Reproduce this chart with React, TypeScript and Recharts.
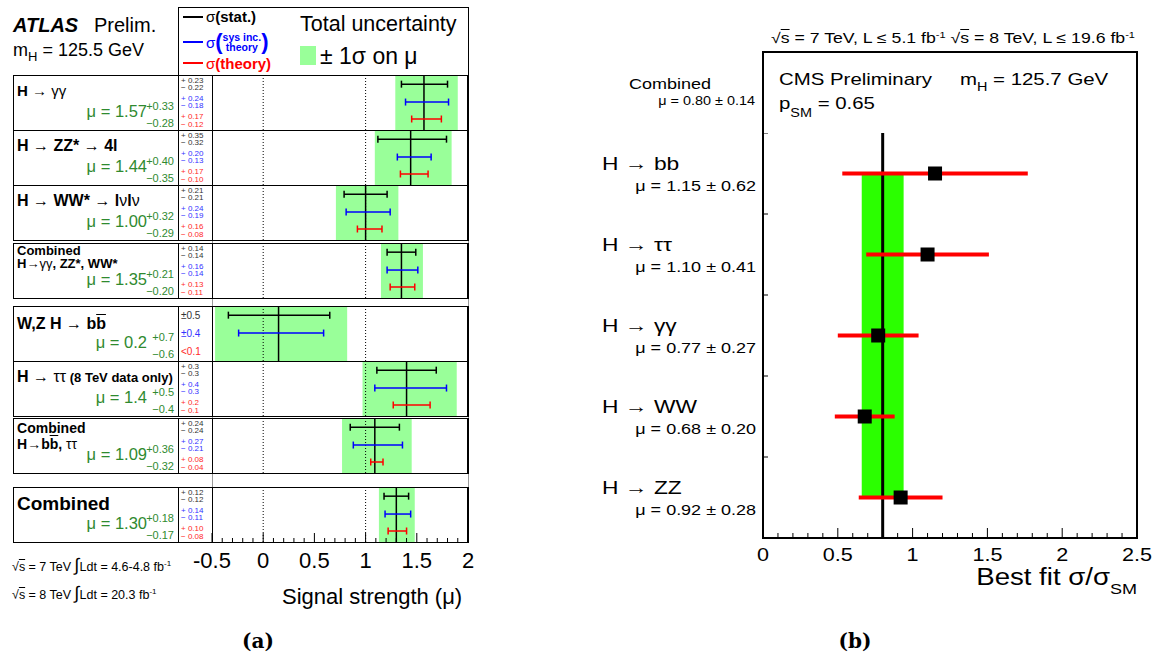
import React from "react";
import { ComposedChart, Scatter, ErrorBar, XAxis, YAxis, ReferenceArea, ReferenceLine } from "recharts";

const FONT = "'Liberation Sans', Arial, Helvetica, sans-serif";

// ---------- (a) ATLAS: signal strength per channel ----------
const atlasChannels = [
  "H → γγ",
  "H → ZZ* → 4l",
  "H → WW* → lνlν",
  "Combined|H→γγ, ZZ*, WW*",
  "W,Z H → b‾b",
  "H → ττ",
  "Combined|H→b‾b, ττ",
  "Combined",
];
const atlasNotes = ["", "", "", "", "", "(8 TeV data only)", "", ""];
const atlasMu = [1.57, 1.44, 1.0, 1.35, 0.15, 1.4, 1.09, 1.3];
const atlasMuText = ["1.57", "1.44", "1.00", "1.35", "0.2", "1.4", "1.09", "1.30"];
const atlasTotUp = [0.33, 0.4, 0.32, 0.21, 0.67, 0.49, 0.36, 0.18];
const atlasTotDn = [0.28, 0.35, 0.29, 0.2, 0.62, 0.43, 0.32, 0.17];
const atlasTotUpText = ["+0.33", "+0.40", "+0.32", "+0.21", "+0.7", "+0.5", "+0.36", "+0.18"];
const atlasTotDnText = ["−0.28", "−0.35", "−0.29", "−0.20", "−0.6", "−0.4", "−0.32", "−0.17"];
const atlasStatUp = [0.23, 0.35, 0.21, 0.14, 0.5, 0.29, 0.24, 0.12];
const atlasStatDn = [0.22, 0.32, 0.21, 0.14, 0.49, 0.29, 0.24, 0.12];
const atlasSysUp = [0.24, 0.2, 0.24, 0.16, 0.44, 0.39, 0.27, 0.14];
const atlasSysDn = [0.18, 0.13, 0.19, 0.14, 0.39, 0.31, 0.21, 0.11];
const atlasThUp = [0.17, 0.17, 0.16, 0.13, null, 0.23, 0.08, 0.1];
const atlasThDn = [0.12, 0.1, 0.08, 0.11, null, 0.13, 0.04, 0.08];
const atlasStatText = [["+ 0.23", "− 0.22"], ["+ 0.35", "− 0.32"], ["+ 0.21", "− 0.21"], ["+ 0.14", "− 0.14"], ["±0.5"], ["+ 0.3", "− 0.3"], ["+ 0.24", "− 0.24"], ["+ 0.12", "− 0.12"]];
const atlasSysText = [["+ 0.24", "− 0.18"], ["+ 0.20", "− 0.13"], ["+ 0.24", "− 0.19"], ["+ 0.16", "− 0.14"], ["±0.4"], ["+ 0.4", "− 0.3"], ["+ 0.27", "− 0.21"], ["+ 0.14", "− 0.11"]];
const atlasThText = [["+ 0.17", "− 0.12"], ["+ 0.17", "− 0.10"], ["+ 0.16", "− 0.08"], ["+ 0.13", "− 0.11"], ["<0.1"], ["+ 0.2", "− 0.1"], ["+ 0.08", "− 0.04"], ["+ 0.10", "− 0.08"]];
const atlasTicks = [-0.5, -0.4, -0.3, -0.2, -0.1, 0, 0.1, 0.2, 0.3, 0.4, 0.5, 0.6, 0.7, 0.8, 0.9, 1, 1.1, 1.2, 1.3, 1.4, 1.5, 1.6, 1.7, 1.8, 1.9, 2];

// ---------- (b) CMS: best fit sigma/sigma_SM ----------
const cmsChannels = ["H → bb", "H → ττ", "H → γγ", "H → WW", "H → ZZ"];
const cmsMu = [1.15, 1.1, 0.77, 0.68, 0.92];
const cmsErr = [0.62, 0.41, 0.27, 0.2, 0.28];
const cmsComb = 0.8;
const cmsCombErr = 0.14;
const cmsTicks = [0, 0.1, 0.2, 0.3, 0.4, 0.5, 0.6, 0.7, 0.8, 0.9, 1, 1.1, 1.2, 1.3, 1.4, 1.5, 1.6, 1.7, 1.8, 1.9, 2, 2.1, 2.2, 2.3, 2.4, 2.5];

// layout of panel (a)
const ROW_TOP = [75, 130, 185, 243, 306, 361, 418, 487];
const ROW_H = 55;
const A_X0 = 212;
const A_W = 256;
const titleSize = [15, 16, 16, 13, 16, 16, 14, 19];
const titleCenters = [[15], [16], [16], [7, 20], [18], [16], [10, 26], [16]];
const GREEN_TXT = "#2f8a2f";
const SYS_BLUE = "#3333ff";
const TH_RED = "#ff2a2a";
// layout of panel (b)
const CMS_HALF_BAND = 40.5;

type TProps = {
  x: number;
  y: number;
  size: number;
  anchor?: "start" | "middle" | "end";
  color?: string;
  weight?: number;
  italic?: boolean;
  family?: string;
  sx?: number;
  children?: React.ReactNode;
};

function T({ x, y, size, anchor = "start", color = "#000", weight = 400, italic, family = FONT, sx = 1, children }: TProps) {
  const base: React.CSSProperties = {
    position: "absolute",
    top: y - size / 2,
    height: size,
    fontSize: size,
    lineHeight: `${size}px`,
    color,
    fontWeight: weight,
    fontStyle: italic ? "italic" : "normal",
    fontFamily: family,
    whiteSpace: "nowrap",
    transform: sx !== 1 ? `scaleX(${sx})` : undefined,
  };
  if (anchor === "start") return <div style={{ ...base, left: x, transformOrigin: "left center" }}>{children}</div>;
  if (anchor === "end")
    return <div style={{ ...base, left: x - 600, width: 600, textAlign: "right", transformOrigin: "right center" }}>{children}</div>;
  return <div style={{ ...base, left: x - 300, width: 600, textAlign: "center" }}>{children}</div>;
}

const Sup = ({ s, up, children }: { s: number; up: number; children: React.ReactNode }) => (
  <span style={{ fontSize: s, position: "relative", top: -up }}>{children}</span>
);

function richTitle(s: string) {
  const out: React.ReactNode[] = [];
  const chars = Array.from(s);
  for (let j = 0; j < chars.length; j++) {
    const c = chars[j];
    if (c === "‾") {
      j++;
      out.push(<span key={j} style={{ textDecoration: "overline" }}>{chars[j]}</span>);
    } else if ("→γτν".includes(c)) {
      out.push(<span key={j} style={{ fontWeight: 400 }}>{c}</span>);
    } else out.push(c);
  }
  return out;
}

const isMajor = (v: number) => Math.abs(v * 2 - Math.round(v * 2)) < 1e-6;

type TickProps = {
  x?: number;
  y?: number;
  index?: number;
  payload?: { value?: string | number; offset?: number };
  majorLen?: number;
  minorLen?: number;
  label?: boolean;
  fontSize?: number;
  dy?: number;
  sx?: number;
};

function InnerTick({ x = 0, y = 0, payload, majorLen = 9, minorLen = 4, label, fontSize = 20, dy = 24, sx = 1 }: TickProps) {
  const v = Number(payload?.value);
  const major = isMajor(v);
  return (
    <g>
      <line x1={x} x2={x} y1={y} y2={y - (major ? majorLen : minorLen)} stroke="#000" strokeWidth={1} />
      {label && major && (
        <text
          transform={`translate(${x} ${y + dy}) scale(${sx} 1)`}
          textAnchor="middle"
          fontSize={fontSize}
          fontFamily={FONT}
          fill="#000"
        >
          {String(v)}
        </text>
      )}
    </g>
  );
}

const noDot = () => <g />;

function AtlasRowChart({ i }: { i: number }) {
  const last = i === atlasChannels.length - 1;
  const mu = atlasMu[i];
  const bar = (y: number, dn: number | null, up: number | null) => (dn == null ? [] : [{ x: mu, y, e: [dn, up] }]);
  const side = last ? 30 : 0;
  return (
    <div style={{ position: "absolute", left: A_X0 - side, top: ROW_TOP[i] }}>
      <ComposedChart width={A_W + 2 * side} height={ROW_H + (last ? 36 : 0)} margin={{ top: 0, bottom: 0, left: side, right: side }}>
        <XAxis
          type="number"
          dataKey="x"
          domain={[-0.5, 2]}
          ticks={atlasTicks}
          interval={0}
          allowDataOverflow
          axisLine={false}
          tickLine={false}
          tickSize={0}
          tickMargin={0}
          height={last ? 36 : 0}
          tick={<InnerTick majorLen={9} minorLen={4} label={last} fontSize={22} dy={26} />}
        />
        <YAxis type="number" dataKey="y" domain={[0, 6]} hide allowDataOverflow />
        <ReferenceArea x1={mu - atlasTotDn[i]} x2={mu + atlasTotUp[i]} fill="#99ff99" fillOpacity={1} stroke="none" ifOverflow="hidden" />
        <ReferenceLine x={0} stroke="#000" strokeDasharray="1 2" />
        <ReferenceLine x={1} stroke="#000" strokeDasharray="1 2" />
        <ReferenceLine x={mu} stroke="#000" strokeWidth={1.5} />
        <Scatter data={bar(5, atlasStatDn[i], atlasStatUp[i])} shape={noDot} isAnimationActive={false}>
          <ErrorBar dataKey="e" direction="x" stroke="#000" strokeWidth={1.5} width={3.5} />
        </Scatter>
        <Scatter data={bar(3.05, atlasSysDn[i], atlasSysUp[i])} shape={noDot} isAnimationActive={false}>
          <ErrorBar dataKey="e" direction="x" stroke="#0000ff" strokeWidth={1.5} width={3.5} />
        </Scatter>
        <Scatter data={bar(1.2, atlasThDn[i], atlasThUp[i])} shape={noDot} isAnimationActive={false}>
          <ErrorBar dataKey="e" direction="x" stroke="#ff0000" strokeWidth={1.5} width={3.5} />
        </Scatter>
      </ComposedChart>
    </div>
  );
}

function AtlasLabels({ i }: { i: number }) {
  const top = ROW_TOP[i];
  const lines = atlasChannels[i].split("|");
  const groups = [atlasStatText[i], atlasSysText[i], atlasThText[i]];
  const colors = ["#333", SYS_BLUE, TH_RED];
  const single = groups[0].length === 1;
  const offs = single ? [10, 28, 45.5] : [5.7, 12.5, 23.5, 31, 42, 49.5];
  const small: { t: string; c: string }[] = [];
  groups.forEach((g, gi) => g.forEach((t) => small.push({ t, c: colors[gi] })));
  return (
    <>
      {lines.map((l, k) => (
        <T key={k} x={17} y={top + titleCenters[i][k]} size={titleSize[i]} weight={700}>
          {richTitle(l)}
          {k === 0 && atlasNotes[i] && <span style={{ fontSize: 13 }}>{"  " + atlasNotes[i]}</span>}
        </T>
      ))}
      <T x={147} y={top + 36} size={16.5} anchor="end" color={GREEN_TXT}>
        μ = {atlasMuText[i]}
      </T>
      <T x={174} y={top + 31} size={11} anchor="end" color={GREEN_TXT}>
        {atlasTotUpText[i]}
      </T>
      <T x={174} y={top + 48.5} size={11} anchor="end" color={GREEN_TXT}>
        {atlasTotDnText[i]}
      </T>
      {small.map((s, k) => (
        <T key={"s" + k} x={181} y={top + offs[k]} size={single ? 10 : 8} color={s.c}>
          {s.t}
        </T>
      ))}
    </>
  );
}

function AtlasFrames({ i }: { i: number }) {
  const top = ROW_TOP[i];
  const line = (left: number, w: number, c = "#000"): React.CSSProperties => ({
    position: "absolute",
    left,
    top,
    width: w,
    height: ROW_H + 1,
    background: c,
  });
  return (
    <>
      <div style={{ position: "absolute", left: 13, top, width: 456, height: ROW_H + 1, border: "1px solid #000", boxSizing: "border-box" }} />
      <div style={line(178, 1)} />
      <div style={line(212, 1)} />
      <div style={line(467, 2)} />
    </>
  );
}

function AtlasPanel() {
  return (
    <>
      <div style={{ position: "absolute", left: 212, top: 75, width: 257, height: 468, border: "1px solid #999", boxSizing: "border-box" }} />
      {atlasChannels.map((_, i) => (
        <AtlasRowChart key={i} i={i} />
      ))}
      {atlasChannels.map((_, i) => (
        <AtlasFrames key={i} i={i} />
      ))}
      {atlasChannels.map((_, i) => (
        <AtlasLabels key={i} i={i} />
      ))}

      <T x={13} y={25} size={20} weight={700} italic>
        ATLAS
      </T>
      <T x={94} y={25} size={20}>
        Prelim.
      </T>
      <T x={13} y={50} size={18}>
        m<Sup s={13} up={-5}>H</Sup> = 125.5 GeV
      </T>

      <div style={{ position: "absolute", left: 178, top: 7, width: 291, height: 69, border: "1px solid #000", boxSizing: "border-box" }} />
      <div style={{ position: "absolute", left: 183, top: 16, width: 20, height: 1.5, background: "#000" }} />
      <div style={{ position: "absolute", left: 183, top: 41, width: 20, height: 1.5, background: "#0000ff" }} />
      <div style={{ position: "absolute", left: 183, top: 62, width: 20, height: 1.5, background: "#ff0000" }} />
      <T x={206} y={16} size={15}>
        σ<b>(stat.)</b>
      </T>
      <div
        style={{
          position: "absolute",
          left: 206,
          top: 29,
          height: 26,
          display: "flex",
          alignItems: "center",
          color: "#0000ff",
          fontFamily: FONT,
          fontWeight: 700,
          whiteSpace: "nowrap",
        }}
      >
        <span style={{ fontSize: 15, fontWeight: 400 }}>σ</span>
        <span style={{ fontSize: 22, lineHeight: "22px" }}>(</span>
        <span style={{ display: "inline-flex", flexDirection: "column", fontSize: 10.5, lineHeight: "10px", alignItems: "center" }}>
          <span>sys inc.</span>
          <span>theory</span>
        </span>
        <span style={{ fontSize: 22, lineHeight: "22px" }}>)</span>
      </div>
      <T x={206} y={63} size={15} color="#ff0000">
        σ<b>(theory)</b>
      </T>
      <T x={300} y={25} size={21.5}>
        Total uncertainty
      </T>
      <div style={{ position: "absolute", left: 300, top: 46, width: 16, height: 19, background: "#99ff99" }} />
      <T x={320} y={56} size={23}>
        ± 1σ on μ
      </T>

      <T x={282} y={597} size={22}>
        Signal strength (μ)
      </T>
      <T x={12} y={565} size={12.5}>
        √<span style={{ textDecoration: "overline" }}>s</span> = 7 TeV <span style={{ fontSize: 18 }}>∫</span>Ldt = 4.6-4.8 fb
        <Sup s={8} up={5}>-1</Sup>
      </T>
      <T x={12} y={593} size={12.5}>
        √<span style={{ textDecoration: "overline" }}>s</span> = 8 TeV <span style={{ fontSize: 18 }}>∫</span>Ldt = 20.3 fb
        <Sup s={8} up={5}>-1</Sup>
      </T>
    </>
  );
}

const cmsData = cmsChannels.map((ch, i) => ({ ch, mu: cmsMu[i], err: cmsErr[i] }));

function ChannelTick({ x = 0, y = 0, payload, index = 0 }: TickProps) {
  const half = payload?.offset || CMS_HALF_BAND;
  return (
    <g fontFamily={FONT} fill="#000">
      <line x1={x} x2={x + 5} y1={y - half} y2={y - half} stroke="#000" />
      <text transform={`translate(${x - 161} ${y - 10.5 + 6.8}) scale(1.2 1)`} fontSize={19}>
        {payload?.value}
      </text>
      <text transform={`translate(${x - 7} ${y + 12 + 5.4}) scale(1.2 1)`} textAnchor="end" fontSize={15}>
        μ = {cmsMu[index].toFixed(2)} ± {cmsErr[index].toFixed(2)}
      </text>
    </g>
  );
}

const Square = ({ cx = 0, cy = 0 }: { cx?: number; cy?: number }) => <rect x={cx - 7} y={cy - 7} width={14} height={14} fill="#000" />;

function CmsPanel() {
  return (
    <>
      <div style={{ position: "absolute", left: 590, top: 133 }}>
        <ComposedChart layout="vertical" width={567} height={450} data={cmsData} margin={{ top: 0, right: 20, bottom: 0, left: 0 }}>
          <XAxis
            type="number"
            dataKey="mu"
            domain={[0, 2.5]}
            ticks={cmsTicks}
            interval={0}
            allowDataOverflow
            axisLine={false}
            tickLine={false}
            tickSize={0}
            tickMargin={0}
            height={45}
            tick={<InnerTick majorLen={10} minorLen={5} label fontSize={18} dy={23} sx={1.2} />}
          />
          <YAxis
            type="category"
            dataKey="ch"
            width={173}
            padding={{ top: CMS_HALF_BAND, bottom: CMS_HALF_BAND }}
            axisLine={false}
            tickLine={false}
            tickSize={0}
            tickMargin={0}
            interval={0}
            tick={<ChannelTick />}
          />
          <ReferenceArea x1={cmsComb - cmsCombErr} x2={cmsComb + cmsCombErr} fill="#2bff00" fillOpacity={1} stroke="none" />
          <ReferenceLine x={cmsComb} stroke="#000" strokeWidth={3} />
          <Scatter dataKey="mu" shape={<Square />} isAnimationActive={false}>
            <ErrorBar dataKey="err" direction="x" stroke="#ff0000" strokeWidth={4} width={0} />
          </Scatter>
        </ComposedChart>
      </div>
      <div style={{ position: "absolute", left: 762, top: 51, width: 376, height: 488, border: "2px solid #000", boxSizing: "border-box" }} />

      <T x={771} y={38} size={14.5} sx={1.22}>
        √<span style={{ textDecoration: "overline" }}>s</span> = 7 TeV, L ≤ 5.1 fb<Sup s={9} up={5}>-1</Sup>{"  "}√
        <span style={{ textDecoration: "overline" }}>s</span> = 8 TeV, L ≤ 19.6 fb<Sup s={9} up={5}>-1</Sup>
      </T>
      <T x={779} y={79} size={17} sx={1.2}>
        CMS Preliminary
      </T>
      <T x={960} y={79} size={17} sx={1.2}>
        m<Sup s={12} up={-6}>H</Sup> = 125.7 GeV
      </T>
      <T x={779} y={103} size={17} sx={1.2}>
        p<Sup s={12} up={-8}>SM</Sup> = 0.65
      </T>
      <T x={629} y={83} size={15} sx={1.2}>
        Combined
      </T>
      <T x={755} y={101} size={12} anchor="end" sx={1.2}>
        μ = {cmsComb.toFixed(2)} ± {cmsCombErr.toFixed(2)}
      </T>
      <T x={1137} y={577} size={23} anchor="end" sx={1.2}>
        Best fit σ/σ<Sup s={15} up={-9}>SM</Sup>
      </T>
    </>
  );
}

export default function App() {
  return (
    <div style={{ position: "absolute", left: 0, top: 0, width: 1153, height: 658, background: "#fff", fontFamily: FONT, overflow: "hidden" }}>
      <AtlasPanel />
      <CmsPanel />
      <T x={258} y={641} size={20} anchor="middle" weight={700} family="'DejaVu Serif', serif">
        (a)
      </T>
      <T x={855} y={641} size={20} anchor="middle" weight={700} family="'DejaVu Serif', serif">
        (b)
      </T>
    </div>
  );
}
